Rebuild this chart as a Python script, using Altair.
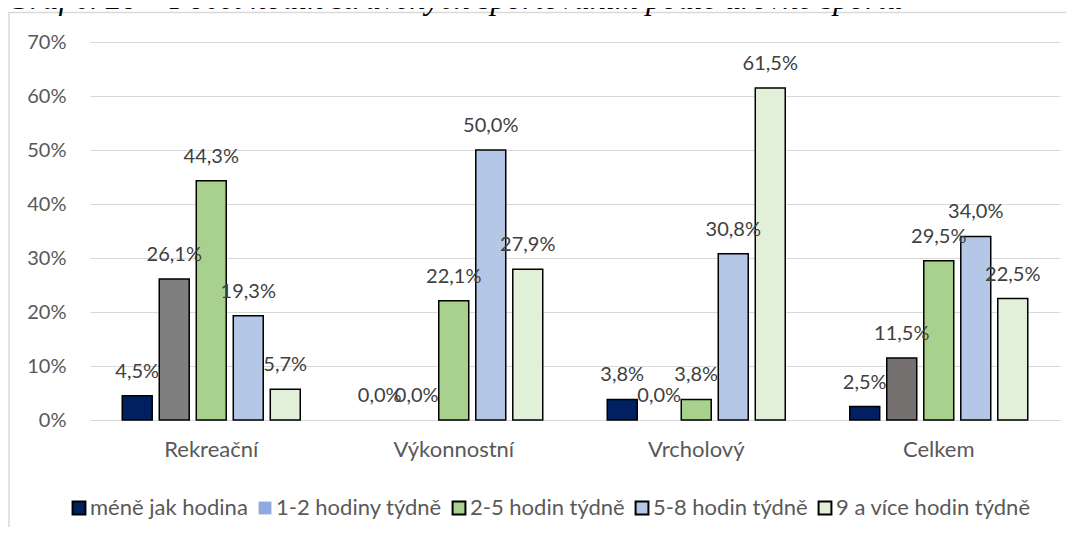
import altair as alt
import pandas as pd

title_text = "Graf č. 20 – Počet hodin strávených sportováním podle úrovně sportu"
categories = ["Rekreační", "Výkonnostní", "Vrcholový", "Celkem"]
series = ["méně jak hodina", "1-2 hodiny týdně", "2-5 hodin týdně", "5-8 hodin týdně", "9 a více hodin týdně"]

mene_jak_hodina = [4.5, 0.0, 3.8, 2.5]
hodiny_1_2 = [26.1, 0.0, 0.0, 11.5]
hodin_2_5 = [44.3, 22.1, 3.8, 29.5]
hodin_5_8 = [19.3, 50.0, 30.8, 34.0]
hodin_9_plus = [5.7, 27.9, 61.5, 22.5]
y_ticks = [0, 10, 20, 30, 40, 50, 60, 70]

values = [mene_jak_hodina, hodiny_1_2, hodin_2_5, hodin_5_8, hodin_9_plus]

# styling
bar_fills = [
    ["#002060"] * 4,
    ["#7F7F7F", "#7F7F7F", "#7F7F7F", "#767171"],
    ["#A9D18E"] * 4,
    ["#B4C7E7"] * 4,
    ["#E2F0D9"] * 4,
]
legend_fill = ["#002060", "#8FAADC", "#A9D18E", "#B4C7E7", "#E2F0D9"]
legend_stroke = ["black", "transparent", "black", "black", "black"]

rows = []
for si, s in enumerate(series):
    for ci, c in enumerate(categories):
        rows.append({"category": c, "series": s, "value": values[si][ci], "barcolor": bar_fills[si][ci]})
df = pd.DataFrame(rows)

FONT = "Lato"
FS_NUM = 20
FS_TXT = 22

x = alt.X("category:N", sort=categories,
          scale=alt.Scale(domain=categories, paddingInner=0.237, paddingOuter=0.1185),
          axis=alt.Axis(title=None, labelAngle=0, ticks=False, domainColor="#D9D9D9", domainWidth=1,
                        labelFontSize=FS_TXT, labelColor="#595959", labelPadding=19, labelFont=FONT))
xo = alt.XOffset("series:N", sort=series,
                 scale=alt.Scale(domain=series, paddingInner=0.19, paddingOuter=0.095))
y = alt.Y("value:Q", scale=alt.Scale(domain=[0, 70], nice=False),
          axis=alt.Axis(values=y_ticks, labelExpr="datum.value + '%'", title=None, ticks=False, domain=False,
                        gridColor="#D9D9D9", gridWidth=1, labelPadding=24, labelFontSize=FS_NUM,
                        labelColor="#595959", labelFont=FONT))

base = alt.Chart(df)

frame = alt.Chart(pd.DataFrame({"a": [0]})).mark_rect(
    fillOpacity=0, stroke="#D9D9D9", strokeWidth=1.5
).encode(x=alt.value(-81), x2=alt.value(1100), y=alt.value(-29.5), y2=alt.value(600))

bars = base.transform_filter("datum.value > 0").mark_bar(stroke="black", strokeWidth=1.5).encode(
    x=x, xOffset=xo, y=y, fill=alt.Fill("barcolor:N", scale=None)
)

labels = base.transform_calculate(
    label="replace(format(datum.value, '.1f'), '.', ',') + '%'"
).mark_text(baseline="alphabetic", dy=-18, fontSize=FS_NUM, color="#404040", font=FONT).encode(
    x=x, xOffset=xo, y=y, text="label:N"
)

leg = dict(orient="none", legendX=-22, legendY=455, direction="horizontal", title=None,
           labelFontSize=FS_TXT, labelFont=FONT, labelColor="#595959", labelLimit=0, symbolSize=165,
           symbolStrokeWidth=2, labelOffset=0, columnPadding=6, symbolType="square")

legend_layer = base.transform_filter("false").mark_square(size=165, opacity=1).encode(
    color=alt.Color("series:N", scale=alt.Scale(domain=series, range=legend_fill), legend=alt.Legend(**leg)),
    stroke=alt.Stroke("series:N", scale=alt.Scale(domain=series, range=legend_stroke), legend=alt.Legend(**leg)),
)

title = alt.Chart(pd.DataFrame({"t": [title_text]})).mark_text(
    align="left", baseline="alphabetic", font="Liberation Serif", fontStyle="italic", fontSize=32, color="black"
).encode(x=alt.value(-83), y=alt.value(-33), text="t:N")

chart = alt.layer(frame, bars, labels, legend_layer, title).properties(
    width=970, height=378,
    autosize=alt.AutoSizeParams(type="none"),
    padding={"left": 82, "top": 34, "right": 6, "bottom": 107},
).configure_view(stroke=None)

chart.save("out.html", embed_options={"renderer": "svg", "actions": False})
